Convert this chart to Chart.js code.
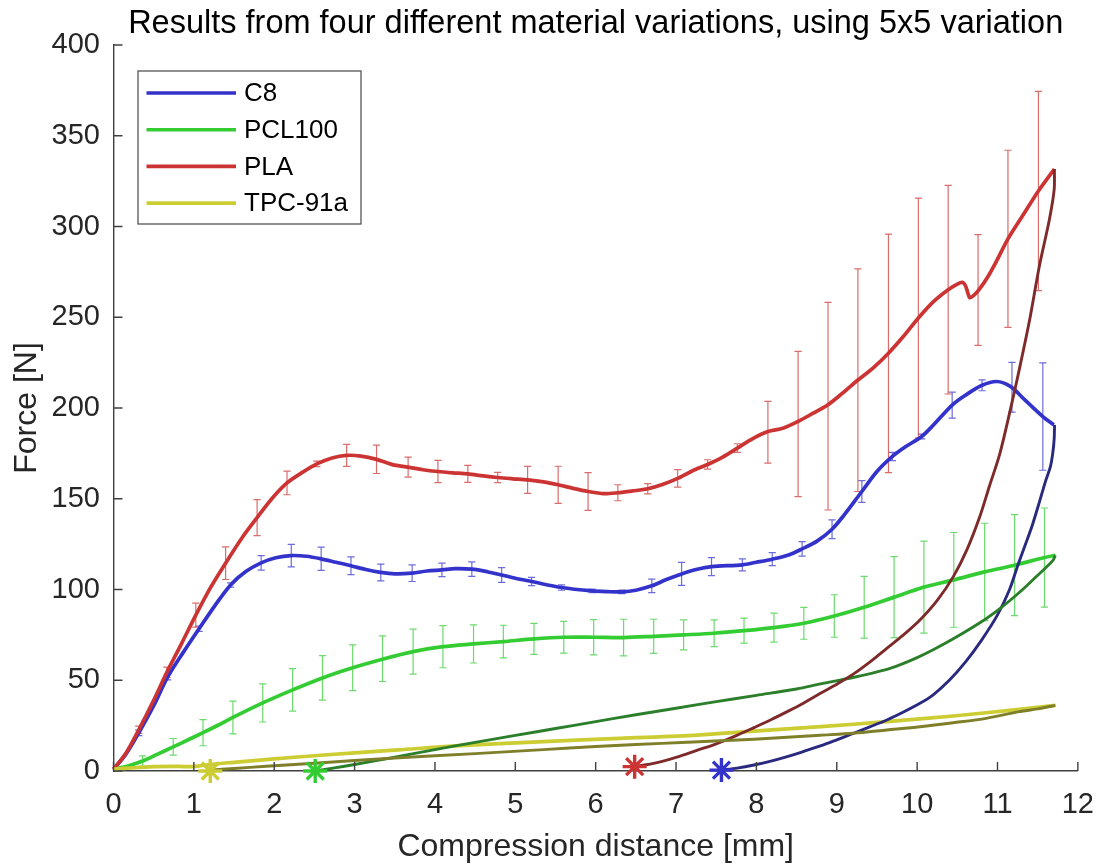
<!DOCTYPE html>
<html>
<head>
<meta charset="utf-8">
<script src="https://cdn.jsdelivr.net/npm/chart.js@4.4.1/dist/chart.umd.min.js"></script>
<style>
  html, body { margin: 0; padding: 0; background: #ffffff; }
  #wrap { width: 1111px; height: 868px; }
</style>
</head>
<body>
<div id="wrap"><canvas id="chart" width="1111" height="868"></canvas></div>
<script>
// ---- Material names and colours (legend order) ----
const materials = ['C8', 'PCL100', 'PLA', 'TPC-91a'];
const loadColors = ['#3333cc', '#33cc33', '#cc3333', '#cccc33'];
const unloadColors = ['#29297f', '#2b7f2b', '#7f2a2a', '#7f7f2a'];
const barColors = ['rgba(51,51,204,0.72)', 'rgba(51,204,51,0.72)', 'rgba(204,51,51,0.72)'];

// ---- Axis tick values ----
const xTicks = [0, 1, 2, 3, 4, 5, 6, 7, 8, 9, 10, 11, 12];
const yTicks = [0, 50, 100, 150, 200, 250, 300, 350, 400];

// ---- C8: mean loading curve ----
const c8LoadX = [0, 0.15, 0.314, 0.5, 0.673, 0.87, 1.065, 1.26, 1.457, 1.65, 1.837, 2.02, 2.212, 2.4, 2.584, 2.77, 2.955, 3.14, 3.326, 3.5, 3.716, 3.9, 4.087, 4.25, 4.459, 4.65, 4.83, 5.0, 5.202, 5.574, 5.954, 6.15, 6.326, 6.5, 6.698, 6.88, 7.069, 7.25, 7.441, 7.825, 8.0, 8.197, 8.4, 8.569, 8.75, 8.941, 9.1, 9.312, 9.5, 9.692, 9.85, 10.056, 10.2, 10.436, 10.6, 10.808, 10.99, 11.16, 11.34, 11.564, 11.7];
const c8LoadY = [1, 9, 21, 36, 51.7, 65.5, 78.4, 91, 102.5, 110, 114.7, 117.5, 118.7, 118.3, 116.9, 115, 113.1, 111, 109.4, 108.6, 109.0, 110.2, 110.8, 111.5, 111.2, 109.8, 108.0, 106.2, 104.4, 101.1, 99.2, 98.8, 98.7, 99.6, 102.0, 105.5, 108.6, 111, 112.6, 113.6, 115, 116.7, 119, 122.4, 126.5, 133.2, 141.5, 154.0, 165, 173.3, 178.5, 184.3, 190.5, 201.6, 207, 212.5, 214.6, 211.9, 204.5, 195.3, 190.7];
// C8: error bars (position, mean, half range)
const c8ErrX = [0.314, 0.673, 1.065, 1.457, 1.837, 2.212, 2.584, 2.955, 3.326, 3.716, 4.087, 4.459, 4.83, 5.202, 5.574, 5.954, 6.326, 6.698, 7.069, 7.441, 7.825, 8.197, 8.569, 8.941, 9.312, 9.692, 10.056, 10.436, 10.808, 11.18, 11.564];
const c8ErrMean = [21, 51.7, 78.4, 102.5, 114.7, 118.7, 116.9, 113.1, 109.4, 109.0, 110.8, 111.2, 108.0, 104.4, 101.1, 99.2, 98.7, 102.0, 108.6, 112.6, 113.6, 116.7, 122.4, 133.2, 154.0, 173.3, 184.3, 201.6, 212.5, 211.4, 195.3];
const c8ErrHalf = [1.5, 1.5, 1.5, 1.2, 4.0, 6.2, 6.4, 4.9, 4.6, 4.6, 3.7, 4.0, 4.1, 2.3, 1.5, 1.0, 1.0, 3.7, 6.3, 5.0, 3.3, 3.6, 4.0, 5.2, 6.0, 2.3, 1.3, 7.2, 3.0, 13.7, 29.6];
// C8: unloading curve
const c8UnloadX = [11.71, 11.705, 11.69, 11.66, 11.6, 11.52, 11.43, 11.34, 11.25, 11.15, 11.0, 10.8, 10.6, 10.4, 10.2, 10.035, 9.83, 9.622, 9.41, 9.209, 9.0, 8.796, 8.59, 8.383, 8.18, 7.97, 7.76, 7.565];
const c8UnloadY = [190.7, 183, 176, 168, 160, 148, 135, 124, 113, 100, 86, 72, 60, 50, 42, 37.3, 32.5, 28.1, 24.3, 20.8, 17.2, 13.8, 10.8, 7.9, 5.4, 3.3, 1.6, 0.5];

// ---- PCL100 ----
const pclLoadX = [0, 0.18, 0.363, 0.55, 0.743, 0.93, 1.114, 1.3, 1.486, 1.857, 2.229, 2.6, 2.976, 3.347, 3.728, 4.099, 4.48, 4.851, 5.232, 5.603, 5.975, 6.347, 6.722, 7.094, 7.474, 7.846, 8.218, 8.59, 8.969, 9.341, 9.713, 10.084, 10.456, 10.84, 11.212, 11.584, 11.72];
const pclLoadY = [1, 2.8, 5.5, 9.3, 13.3, 17.2, 21.1, 25.2, 29.5, 37.5, 44.7, 51.3, 56.9, 61.6, 65.8, 68.5, 70.0, 71.3, 72.8, 73.7, 73.7, 73.5, 74.2, 75.0, 75.9, 77.3, 79.0, 81.4, 85.4, 90.2, 95.8, 101.3, 105.3, 109.7, 113.4, 117.6, 118.8];
const pclErrX = [0.363, 0.743, 1.114, 1.486, 1.857, 2.229, 2.6, 2.976, 3.347, 3.728, 4.099, 4.48, 4.851, 5.232, 5.603, 5.975, 6.347, 6.722, 7.094, 7.474, 7.846, 8.218, 8.59, 8.969, 9.341, 9.713, 10.084, 10.456, 10.84, 11.212, 11.584];
const pclErrMean = [5.5, 13.3, 21.1, 29.5, 37.5, 44.7, 51.3, 56.9, 61.9, 65.8, 68.5, 70.0, 71.3, 72.8, 73.7, 73.7, 73.5, 74.2, 75.0, 75.9, 77.3, 79.0, 81.4, 85.4, 90.2, 95.8, 101.3, 105.3, 109.7, 113.4, 117.6];
const pclErrHalf = [2.8, 4.6, 7.2, 9.0, 10.5, 11.7, 12.3, 12.6, 12.6, 12.4, 11.6, 10.5, 9.0, 8.5, 8.7, 9.7, 10.1, 9.4, 8.3, 7.4, 6.9, 8.0, 8.8, 11.7, 17.0, 22.3, 25.3, 26.1, 26.8, 27.8, 27.3];
const pclUnloadX = [11.72, 11.69, 11.6, 11.48, 11.35, 11.21, 11.03, 10.8, 10.45, 10.2, 10.0, 9.8, 9.6, 9.2, 8.8, 8.5, 8.0, 7.5, 7.0, 6.5, 6.0, 5.5, 5.0, 4.5, 4.0, 3.5, 3.0, 2.75, 2.51];
const pclUnloadY = [118.8, 116, 112, 107, 101.5, 96, 89.5, 82.2, 72.8, 66.8, 62.5, 58.8, 55.7, 51.5, 48.0, 45.2, 41.7, 38.2, 34.6, 31.0, 27.2, 23.4, 19.6, 15.8, 11.8, 7.6, 3.6, 1.7, 0];

// ---- PLA ----
const plaLoadX = [0, 0.15, 0.314, 0.5, 0.664, 0.85, 1.024, 1.2, 1.395, 1.6, 1.787, 1.97, 2.159, 2.35, 2.53, 2.72, 2.901, 3.08, 3.273, 3.47, 3.666, 3.85, 4.037, 4.22, 4.409, 4.6, 4.781, 4.97, 5.153, 5.35, 5.533, 5.72, 5.905, 6.1, 6.276, 6.46, 6.648, 6.84, 7.02, 7.2, 7.392, 7.58, 7.763, 7.95, 8.143, 8.33, 8.519, 8.7, 8.891, 9.08, 9.263, 9.45, 9.643, 9.83, 10.015, 10.2, 10.386, 10.5, 10.564, 10.6, 10.63, 10.654, 10.69, 10.758, 10.882, 11.0, 11.13, 11.32, 11.509, 11.708];
const plaLoadY = [1, 9.5, 22.7, 39, 54.4, 70.5, 85.9, 100.5, 114.5, 128.5, 139.6, 150, 158.7, 164.5, 169.2, 172.5, 173.9, 173.5, 171.7, 168.8, 167.4, 166, 165.0, 164.3, 163.7, 162.6, 161.7, 161, 160.4, 159.3, 157.7, 155.7, 154.0, 152.8, 153.3, 154.3, 155.5, 158, 161.2, 165.3, 168.9, 173, 177.9, 183, 187, 188.8, 192.6, 197, 201.8, 208.5, 215.4, 222, 230.2, 239.5, 249.6, 258.5, 265.2, 268.3, 269.2, 267.5, 263.5, 260.8, 261.5, 264.5, 272.5, 282, 293.2, 306.5, 319.6, 331.7];
const plaErrX = [0.314, 0.664, 1.024, 1.395, 1.787, 2.159, 2.53, 2.901, 3.273, 3.666, 4.037, 4.409, 4.781, 5.153, 5.533, 5.905, 6.276, 6.648, 7.02, 7.392, 7.763, 8.143, 8.519, 8.891, 9.263, 9.643, 10.015, 10.386, 10.758, 11.13, 11.509];
const plaErrMean = [22.7, 54.4, 85.9, 114.5, 139.6, 158.7, 169.2, 173.9, 171.7, 167.4, 165.0, 163.7, 161.7, 160.4, 157.7, 154.0, 153.3, 155.5, 161.2, 168.9, 177.9, 186.6, 191.2, 201.0, 215.3, 230.1, 249.5, 265.2, 265.0, 293.2, 319.6];
const plaErrHalf = [2.0, 2.8, 6.6, 9.0, 9.9, 6.5, 1.5, 6.1, 7.8, 5.5, 6.1, 4.7, 2.8, 7.4, 10.2, 10.4, 4.4, 2.8, 4.8, 2.6, 2.4, 17.0, 40.0, 57.2, 61.3, 65.7, 66.1, 57.5, 30.5, 48.8, 54.9];
const plaUnloadX = [11.708, 11.705, 11.645, 11.52, 11.4, 11.27, 11.17, 11.03, 10.9, 10.78, 10.62, 10.45, 10.25, 10.035, 9.83, 9.622, 9.41, 9.209, 9.0, 8.796, 8.59, 8.383, 8.18, 7.97, 7.75, 7.5, 7.25, 7.0, 6.75, 6.485];
const plaUnloadY = [331.7, 320.3, 303.7, 278, 248.6, 221, 201, 175, 157, 140.2, 122, 107.1, 94, 83.2, 75, 67.6, 60, 53.5, 47.8, 42.8, 37.5, 32.7, 28.2, 23.9, 19.5, 15.0, 11.2, 7.5, 4.5, 2.4];

// ---- TPC-91a ----
const tpcLoadX = [0, 0.25, 0.5, 0.75, 0.9, 1.05, 1.2, 1.5, 2.0, 2.5, 3.0, 3.54, 4.25, 5.35, 6.3, 7.27, 7.97, 8.8, 9.62, 10.45, 11.27, 11.72];
const tpcLoadY = [1, 1.8, 2.4, 2.6, 2.4, 2.7, 3.6, 4.8, 6.7, 8.4, 10.0, 11.6, 13.8, 16.2, 18.0, 19.8, 22.0, 24.4, 27.2, 30.3, 34.0, 36.2];
const tpcUnloadX = [11.72, 11.5, 11.27, 10.86, 10.45, 10.035, 9.622, 9.209, 8.796, 8.383, 7.97, 7.556, 7.144, 6.5, 6.0, 5.35, 4.5, 3.5, 2.5, 1.9, 1.5, 1.204];
const tpcUnloadY = [36.2, 34.2, 32.7, 29.0, 26.6, 24.4, 22.6, 20.8, 19.7, 18.6, 17.5, 16.7, 15.8, 14.6, 13.5, 11.8, 9.6, 7.2, 4.3, 2.6, 1.4, 0.5];

// ---- End points after unloading (asterisks) ----
const endX = [7.565, 2.51, 6.485, 1.204];
const endY = [0.5, 0, 2.4, 0];

const titleText = 'Results from four different material variations, using 5x5 variation';
const xTitle = 'Compression distance [mm]';
const yTitle = 'Force [N]';

// ---- helpers ----
const FAMILY = "'Liberation Sans', Arial, Helvetica, sans-serif";
const AXIS_COLOR = '#404040';
const TEXT_COLOR = '#262626';
const pts = (xs, ys) => xs.map((v, i) => ({ x: v, y: ys[i] }));

const loadX = [c8LoadX, pclLoadX, plaLoadX, tpcLoadX];
const loadY = [c8LoadY, pclLoadY, plaLoadY, tpcLoadY];
const unloadX = [c8UnloadX, pclUnloadX, plaUnloadX, tpcUnloadX];
const unloadY = [c8UnloadY, pclUnloadY, plaUnloadY, tpcUnloadY];
const errSets = [
  { x: c8ErrX, mean: c8ErrMean, half: c8ErrHalf, color: barColors[0] },
  { x: pclErrX, mean: pclErrMean, half: pclErrHalf, color: barColors[1] },
  { x: plaErrX, mean: plaErrMean, half: plaErrHalf, color: barColors[2] }
];

const datasets = [];
// loading curves (legend entries); later materials sit on top
materials.forEach((name, i) => {
  datasets.push({
    label: name, legendEntry: true,
    data: pts(loadX[i], loadY[i]),
    borderColor: loadColors[i], backgroundColor: loadColors[i],
    borderWidth: 3.7, pointRadius: 0, tension: 0.3, clip: false,
    order: 8 - i
  });
});
// unloading curves
materials.forEach((name, i) => {
  datasets.push({
    label: name + ' unloading',
    data: pts(unloadX[i], unloadY[i]),
    borderColor: unloadColors[i], backgroundColor: unloadColors[i],
    borderWidth: 2.9, pointRadius: 0, tension: 0.3, clip: false,
    order: 4 - i
  });
});
// end markers
materials.forEach((name, i) => {
  datasets.push({
    label: name + ' end',
    data: [{ x: endX[i], y: endY[i] }],
    showLine: false,
    pointStyle: 'star', pointRadius: 12, pointBorderWidth: 3.4,
    pointBorderColor: loadColors[i], pointBackgroundColor: loadColors[i],
    borderColor: loadColors[i], clip: false, order: 0
  });
});

// error bars, drawn under the curves
const errorBarPlugin = {
  id: 'errorBars',
  beforeDatasetsDraw(chart) {
    const { ctx, scales: { x, y } } = chart;
    const cap = 3.6;
    ctx.save();
    ctx.lineWidth = 1.2;
    errSets.forEach(s => {
      ctx.strokeStyle = s.color;
      s.x.forEach((xv, i) => {
        const px = x.getPixelForValue(xv);
        const top = y.getPixelForValue(s.mean[i] + s.half[i]);
        const bot = y.getPixelForValue(s.mean[i] - s.half[i]);
        ctx.beginPath();
        ctx.moveTo(px, top); ctx.lineTo(px, bot);
        ctx.moveTo(px - cap, top); ctx.lineTo(px + cap, top);
        ctx.moveTo(px - cap, bot); ctx.lineTo(px + cap, bot);
        ctx.stroke();
      });
    });
    ctx.restore();
  }
};

// inward tick marks on both axes
const innerTicksPlugin = {
  id: 'innerTicks',
  afterDatasetsDraw(chart) {
    const { ctx, chartArea, scales: { x, y } } = chart;
    const len = 9;
    ctx.save();
    ctx.strokeStyle = AXIS_COLOR;
    ctx.lineWidth = 1.4;
    ctx.beginPath();
    xTicks.forEach(v => {
      const px = x.getPixelForValue(v);
      ctx.moveTo(px, chartArea.bottom); ctx.lineTo(px, chartArea.bottom - len);
    });
    yTicks.forEach(v => {
      const py = y.getPixelForValue(v);
      ctx.moveTo(chartArea.left, py); ctx.lineTo(chartArea.left + len, py);
    });
    ctx.stroke();
    ctx.restore();
  }
};

// boxed legend in the upper-left corner of the plot area
const boxLegendPlugin = {
  id: 'boxLegend',
  afterDraw(chart) {
    const { ctx, chartArea } = chart;
    const entries = chart.data.datasets.filter(d => d.legendEntry);
    const left = chartArea.left + 24.5, top = chartArea.top + 26;
    const w = 223, h = 153, step = 36.7;
    ctx.save();
    ctx.fillStyle = '#ffffff';
    ctx.fillRect(left, top, w, h);
    ctx.strokeStyle = '#555555';
    ctx.lineWidth = 1.3;
    ctx.strokeRect(left, top, w, h);
    ctx.font = '26px ' + FAMILY;
    ctx.textBaseline = 'middle';
    ctx.textAlign = 'left';
    entries.forEach((d, i) => {
      const cy = top + 22 + i * step;
      ctx.strokeStyle = d.borderColor;
      ctx.lineWidth = 3.6;
      ctx.beginPath();
      ctx.moveTo(left + 8.5, cy); ctx.lineTo(left + 98, cy);
      ctx.stroke();
      ctx.fillStyle = '#000000';
      ctx.fillText(d.label, left + 106, cy + 1);
    });
    ctx.restore();
  }
};

new Chart(document.getElementById('chart'), {
  type: 'line',
  data: { datasets },
  plugins: [errorBarPlugin, innerTicksPlugin, boxLegendPlugin],
  options: {
    responsive: false,
    animation: false,
    devicePixelRatio: 1,
    layout: { padding: { left: 0, right: 29, top: 0, bottom: 0 } },
    plugins: {
      legend: { display: false },
      tooltip: { enabled: false },
      title: {
        display: true, text: titleText, color: '#000000', fullSize: false,
        font: { family: FAMILY, size: 32.5, weight: 'normal', lineHeight: 1.2 },
        padding: { top: 5, bottom: 1 }
      }
    },
    scales: {
      x: {
        type: 'linear', min: 0, max: 12,
        afterBuildTicks: s => { s.ticks = xTicks.map(v => ({ value: v })); },
        ticks: { font: { family: FAMILY, size: 29 }, color: TEXT_COLOR, padding: 17, maxRotation: 0, autoSkip: false },
        grid: { display: false, drawTicks: false },
        border: { display: true, color: AXIS_COLOR, width: 1.4 },
        title: { display: true, text: xTitle, color: TEXT_COLOR, font: { family: FAMILY, size: 32 }, padding: { top: 0, bottom: 2 } },
        afterFit: s => { s.height = 97; }
      },
      y: {
        type: 'linear', min: 0, max: 400,
        afterBuildTicks: s => { s.ticks = yTicks.map(v => ({ value: v })); },
        ticks: { font: { family: FAMILY, size: 29 }, color: TEXT_COLOR, padding: 13.5, autoSkip: false },
        grid: { display: false, drawTicks: false },
        border: { display: true, color: AXIS_COLOR, width: 1.4 },
        title: { display: true, text: yTitle, color: TEXT_COLOR, font: { family: FAMILY, size: 32 }, padding: { top: 8, bottom: 0 } },
        afterFit: s => { s.width = 113.5; }
      }
    }
  }
});
</script>
</body>
</html>
